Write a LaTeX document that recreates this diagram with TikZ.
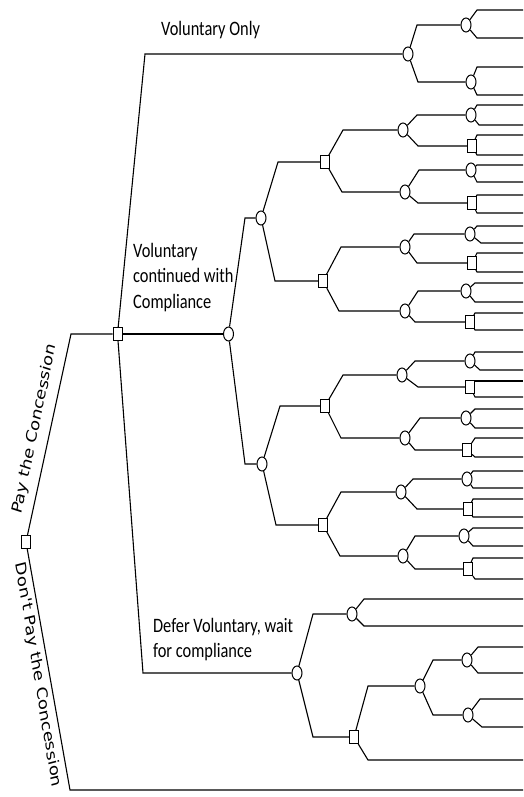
\documentclass[tikz,border=0pt]{standalone}
\usepackage{fontspec}
\setmainfont{Carlito}
\newfontfamily\dvfont{DejaVu Sans}
\usetikzlibrary{shapes.geometric}
\tikzset{
 edge/.style={line width=1.1pt, line join=miter},
 ch/.style={draw, ellipse, line width=1pt, minimum width=10pt, minimum height=14pt, inner sep=0pt, fill=white},
 dc/.style={draw, rectangle, line width=1pt, minimum width=9pt, minimum height=13pt, inner sep=0pt, fill=white},
 lbl/.style={font=\fontsize{20.5}{25.5}\selectfont, inner sep=0pt, xscale=0.8, transform shape, anchor=base west},
 rot/.style={font=\dvfont\fontsize{18}{21}\selectfont, inner sep=0pt, xscale=0.8, transform shape},
}
\newcommand\br[3]{\draw[edge] (#1) -- (#2,0 |- #3) -- (#3);}
\newcommand\lf[4]{\coordinate (#1-#4) at (523,#3); \draw[edge] (#1) -- (#2,#3) -- (#1-#4);}
\begin{document}
\begin{tikzpicture}[x=1pt,y=-1pt]
\useasboundingbox (0,0) rectangle (524,797);
% decision / chance nodes
\node[dc] (R) at (26,542) {};
\node[dc] (P) at (117.5,334) {};
\node[ch] (V1) at (408,54) {};
\node[ch] (V1a) at (466,25) {};
\node[ch] (V1b) at (471,82) {};
\node[ch] (C1) at (228.5,334) {};
\node[ch] (C2) at (261,218) {};
\node[ch] (C3) at (262,464) {};
\node[dc] (S1) at (325,162) {};
\node[dc] (S2) at (323,281) {};
\node[dc] (S3) at (325,406) {};
\node[dc] (S4) at (323,525) {};
\node[ch] (S1a) at (403,130) {};
\node[ch] (S1b) at (405,192) {};
\node[ch] (S1a1) at (471,115) {};
\node[dc] (S1a2) at (472,146) {};
\node[ch] (S1b1) at (471,170) {};
\node[dc] (S1b2) at (472,203) {};
\node[ch] (S2a) at (405,247) {};
\node[ch] (S2b) at (405,311) {};
\node[ch] (S2a1) at (470,234) {};
\node[dc] (S2a2) at (472,263) {};
\node[ch] (S2b1) at (466,291) {};
\node[dc] (S2b2) at (470,322) {};
\node[ch] (S3a) at (402,375) {};
\node[ch] (S3b) at (405,438) {};
\node[ch] (S3a1) at (470,361) {};
\node[dc] (S3a2) at (470,387) {};
\node[ch] (S3b1) at (466,418) {};
\node[dc] (S3b2) at (467,450) {};
\node[ch] (S4a) at (401,492) {};
\node[ch] (S4b) at (403,556) {};
\node[ch] (S4a1) at (467,479) {};
\node[dc] (S4a2) at (468,509) {};
\node[ch] (S4b1) at (464,536) {};
\node[dc] (S4b2) at (468,569) {};
\node[ch] (D1) at (297,673) {};
\node[ch] (D1a) at (352,614) {};
\node[dc] (D1b) at (354,737) {};
\node[ch] (D1b1) at (420,686) {};
\node[ch] (D1b1a) at (467,660) {};
\node[ch] (D1b1b) at (468,715) {};
% labels
\node[lbl] (lvo) at (161,36) {Voluntary Only};
\node[lbl] (lvc) at (133,257) {\begin{tabular}[t]{@{}l@{}}Voluntary\\continued with\\Compliance\end{tabular}};
\node[lbl] (ldv) at (153,632) {\begin{tabular}[t]{@{}l@{}}Defer Voluntary, wait\\for compliance\end{tabular}};
\node[rot, rotate=75.6] (lpay) at (35,429) {Pay the Concession};
\node[rot, rotate=-78.3] (ldont) at (38,675) {Don't Pay the Concession};
% main branches
\br{R}{71}{P}
\coordinate (R-end) at (523,790);
\draw[edge] (R) -- (70,790) -- (R-end);
\br{P}{145}{V1}
\draw[edge] (P) -- (C1);
\br{P}{143}{D1}
% voluntary only
\br{V1}{417}{V1a}
\br{V1}{418}{V1b}
\lf{V1a}{477}{10}{u}\lf{V1a}{477}{38}{d}
\lf{V1b}{477}{67}{u}\lf{V1b}{477}{95}{d}
% voluntary continued
\br{C1}{245}{C2}
\br{C1}{245}{C3}
\br{C2}{278}{S1}
\br{C2}{275}{S2}
\br{C3}{280}{S3}
\br{C3}{276}{S4}
\br{S1}{343}{S1a}
\br{S1}{342}{S1b}
\br{S1a}{417}{S1a1}
\br{S1a}{418}{S1a2}
\lf{S1a1}{477}{105}{u}\lf{S1a1}{479}{125}{d}
\lf{S1a2}{477}{135}{u}\lf{S1a2}{477}{155}{d}
\br{S1b}{419}{S1b1}
\br{S1b}{418}{S1b2}
\lf{S1b1}{477}{165}{u}\lf{S1b1}{477}{182}{d}
\lf{S1b2}{477}{195}{u}\lf{S1b2}{477}{213}{d}
\br{S2}{341}{S2a}
\br{S2}{339}{S2b}
\br{S2a}{414}{S2a1}
\br{S2a}{417}{S2a2}
\lf{S2a1}{477}{226}{u}\lf{S2a1}{481}{243}{d}
\lf{S2a2}{477}{253}{u}\lf{S2a2}{477}{272}{d}
\br{S2b}{418}{S2b1}
\br{S2b}{415}{S2b2}
\lf{S2b1}{475}{283}{u}\lf{S2b1}{475}{302}{d}
\lf{S2b2}{475}{313}{u}\lf{S2b2}{475}{330}{d}
\br{S3}{343}{S3a}
\br{S3}{341}{S3b}
\br{S3a}{415}{S3a1}
\br{S3a}{418}{S3a2}
\lf{S3a1}{475}{352}{u}\lf{S3a1}{480}{370}{d}
\lf{S3a2}{475}{381}{u}\lf{S3a2}{475}{397}{d}
\br{S3b}{420}{S3b1}
\br{S3b}{415}{S3b2}
\lf{S3b1}{475}{409}{u}\lf{S3b1}{475}{428}{d}
\lf{S3b2}{475}{438}{u}\lf{S3b2}{475}{457}{d}
\br{S4}{341}{S4a}
\br{S4}{340}{S4b}
\br{S4a}{413}{S4a1}
\br{S4a}{417}{S4a2}
\lf{S4a1}{473}{471}{u}\lf{S4a1}{473}{488}{d}
\lf{S4a2}{473}{499}{u}\lf{S4a2}{473}{517}{d}
\br{S4b}{415}{S4b1}
\br{S4b}{415}{S4b2}
\lf{S4b1}{473}{528}{u}\lf{S4b1}{473}{546}{d}
\lf{S4b2}{473}{558}{u}\lf{S4b2}{475}{579}{d}
% defer voluntary
\br{D1}{313}{D1a}
\br{D1}{313}{D1b}
\lf{D1a}{364}{599}{u}\lf{D1a}{364}{626}{d}
\br{D1b}{368}{D1b1}
\lf{D1b}{368}{760}{d}
\br{D1b1}{433}{D1b1a}
\br{D1b1}{433}{D1b1b}
\lf{D1b1a}{478}{647}{u}\lf{D1b1a}{478}{673}{d}
\lf{D1b1b}{480}{699}{u}\lf{D1b1b}{482}{727}{d}
\end{tikzpicture}
\end{document}
